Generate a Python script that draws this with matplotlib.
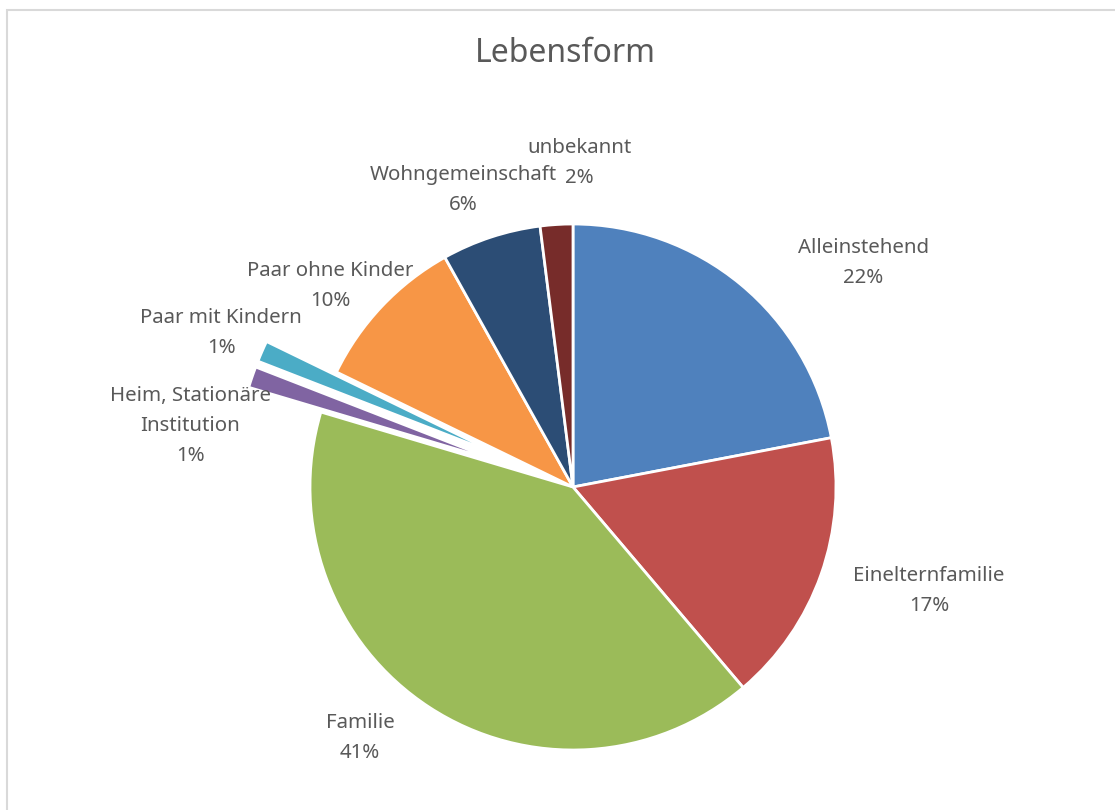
import matplotlib
matplotlib.use("Agg")
import matplotlib.pyplot as plt
from matplotlib.patches import Rectangle

# Data
categories = [
    "Alleinstehend",
    "Einelternfamilie",
    "Familie",
    "Heim, Stationäre\nInstitution",
    "Paar mit Kindern",
    "Paar ohne Kinder",
    "Wohngemeinschaft",
    "unbekannt",
]
shares = [22.0, 16.8, 40.8, 1.3, 1.3, 9.7, 6.1, 2.0]
pct_labels = ["22%", "17%", "41%", "1%", "1%", "10%", "6%", "2%"]

# Styling
colors = ["#4F81BD", "#C0504D", "#9BBB59", "#8064A2",
          "#4BACC6", "#F79646", "#2C4D75", "#772C2A"]
explode = [0, 0, 0, 0.29, 0.29, 0, 0, 0]
# label centres in pie-radius units (Excel "best fit" placement)
label_xy = [(1.103, 0.851), (1.354, -0.396), (-0.810, -0.955),
            (-1.456, 0.231), (-1.338, 0.585), (-0.924, 0.764),
            (-0.418, 1.129), (0.023, 1.231)]

TEXT = "#595959"
PX = 1 / 263          # one pixel in pie-radius units
LINE_STEP = 30 * PX   # Excel label line pitch

plt.rcParams["font.family"] = ["Noto Sans", "DejaVu Sans"]

fig = plt.figure(figsize=(11.15, 8.1), dpi=100)
ax = fig.add_axes([0, 0, 1, 1])

ax.pie(shares, colors=colors, explode=explode, startangle=90,
       counterclock=False, radius=1.0,
       wedgeprops=dict(edgecolor="white", linewidth=2))

# each label line as its own text so the boxes stay tight
for name, pct, (x, y) in zip(categories, pct_labels, label_xy):
    lines = name.split("\n") + [pct]
    top = y + (len(lines) - 1) / 2 * LINE_STEP
    for i, line in enumerate(lines):
        ax.text(x, top - i * LINE_STEP, line, ha="center", va="center",
                fontsize=14.7, color=TEXT)

# map: 1 unit = 263 px, centre at (573, 487) px
ax.set_xlim(-573 * PX, (1115 - 573) * PX)
ax.set_ylim(-(810 - 487) * PX, 487 * PX)
ax.set_aspect("auto")
ax.axis("off")

fig.text(0.507, 0.934, "Lebensform", ha="center", va="center",
         fontsize=23, color=TEXT)

fig.patches.append(Rectangle((7 / 1115, -0.05), 1.1, 0.05 + 1 - 10 / 810,
                             transform=fig.transFigure, fill=False,
                             edgecolor="#D9D9D9", linewidth=1.5))

fig.savefig("out.png", dpi=100)
